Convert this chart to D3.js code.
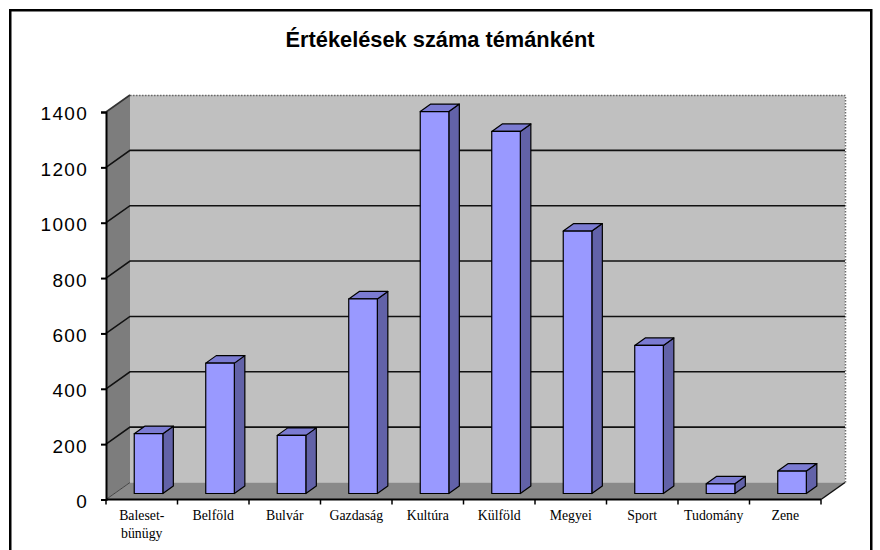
<!DOCTYPE html>
<html>
<head>
<meta charset="utf-8">
<script src="https://cdn.jsdelivr.net/npm/d3@7/dist/d3.min.js"></script>
<style>
  html, body { margin: 0; padding: 0; background: #fff; }
  svg { display: block; }
</style>
</head>
<body>
<svg id="chart" width="880" height="550"></svg>
<script>
// ---- data ----
const title = "Értékelések száma témánként";
const categories = ["Baleset-bünügy", "Belföld", "Bulvár", "Gazdaság", "Kultúra", "Külföld", "Megyei", "Sport", "Tudomány", "Zene"];
const values = [216, 471, 210, 703, 1380, 1308, 948, 535, 35, 81];
const yTicks = [0, 200, 400, 600, 800, 1000, 1200, 1400];

// ---- layout ----
const W = 880, H = 550;
const front = { left: 106, right: 821, bottom: 499.5, top: 112 };
const depth = { dx: 24, dy: -17 };      // back wall offset
const barOff = { dx: 8.5, dy: -6 };     // bar front plane offset
const barDepth = { dx: 10.5, dy: -7.5 };

const svg = d3.select("#chart");

// outer frame
svg.append("rect").attr("x", 0).attr("y", 0).attr("width", W).attr("height", H).attr("fill", "#fff");
svg.append("rect")
  .attr("x", 10.25).attr("y", 10.25).attr("width", 861).attr("height", 580)
  .attr("fill", "none").attr("stroke", "#000").attr("stroke-width", 2.5);

// title
svg.append("text")
  .attr("x", 440).attr("y", 47)
  .attr("text-anchor", "middle")
  .attr("font-family", "'Liberation Sans', Arial, sans-serif")
  .attr("font-weight", "bold")
  .attr("font-size", 21.8)
  .text(title);

// scales
const x = d3.scaleBand().domain(categories).range([front.left, front.right]).padding(0);
const y = d3.scaleLinear().domain([0, 1400]).range([front.bottom, front.top]);
const bw = x.bandwidth();

const maxV = 1400;
const bx0 = front.left + depth.dx, bx1 = front.right + depth.dx;

// left side wall
svg.append("polygon")
  .attr("points", [
    [front.left, y(0)], [front.left, y(maxV)],
    [front.left + depth.dx, y(maxV) + depth.dy], [front.left + depth.dx, y(0) + depth.dy]
  ].map(p => p.join(",")).join(" "))
  .attr("fill", "#7d7d7d");

// back wall
svg.append("rect")
  .attr("x", bx0).attr("y", y(maxV) + depth.dy)
  .attr("width", bx1 - bx0).attr("height", y(0) - y(maxV))
  .attr("fill", "#c0c0c0");

// dotted top and right border of back wall
svg.append("path")
  .attr("d", `M${bx0},${y(maxV) + depth.dy + 0.5}H${bx1 + 0.5}V${y(0) + depth.dy}`)
  .attr("fill", "none").attr("stroke", "#6a6a6a").attr("stroke-width", 1.5)
  .attr("stroke-dasharray", "1.5,1.5");

// floor
svg.append("polygon")
  .attr("points", [
    [front.left, y(0)], [front.right, y(0)],
    [front.right + depth.dx, y(0) + depth.dy], [front.left + depth.dx, y(0) + depth.dy]
  ].map(p => p.join(",")).join(" "))
  .attr("fill", "#898989");

// gridlines (back wall + side wall diagonals)
const grid = svg.append("g").attr("stroke", "#111").attr("stroke-width", 1.6).attr("fill", "none");
yTicks.filter(t => t > 0 && t < maxV).forEach(t => {
  grid.append("path")
    .attr("d", `M${front.left},${y(t)}L${bx0},${y(t) + depth.dy}H${bx1}`);
});
grid.append("path").attr("d", `M${front.left},${y(maxV)}L${bx0},${y(maxV) + depth.dy}`).attr("stroke", "#333");
grid.append("path").attr("d", `M${front.left},${y(0)}L${bx0},${y(0) + depth.dy}`).attr("stroke", "#444").attr("stroke-width", 1);
grid.append("path").attr("d", `M${front.right},${y(0)}L${front.right + depth.dx},${y(0) + depth.dy}`).attr("stroke-width", 1.5);

// bars
const yb = v => y(v) + barOff.dy;
const bars = svg.append("g").attr("stroke", "#000").attr("stroke-width", 1.2).attr("stroke-linejoin", "round");
categories.forEach((c, i) => {
  const v = values[i];
  const fx0 = x(c) + bw * 0.395;
  const fx1 = fx0 + bw * 0.4;
  const top = yb(v), bot = yb(0);
  const dx = barDepth.dx, dy = barDepth.dy;
  const g = bars.append("g");
  g.append("polygon")
    .attr("points", [[fx1, bot], [fx1, top], [fx1 + dx, top + dy], [fx1 + dx, bot + dy]].map(p => p.join(",")).join(" "))
    .attr("fill", "#6262a8");
  g.append("polygon")
    .attr("points", [[fx0, top], [fx1, top], [fx1 + dx, top + dy], [fx0 + dx, top + dy]].map(p => p.join(",")).join(" "))
    .attr("fill", "#7b7bd2");
  g.append("rect")
    .attr("x", fx0).attr("y", top).attr("width", fx1 - fx0).attr("height", bot - top)
    .attr("fill", "#9999ff");
});

// y axis
const yAxis = d3.axisLeft(y).tickValues(yTicks).tickSize(5).tickPadding(13).tickFormat(d3.format("d"));
const ga = svg.append("g").attr("transform", `translate(${front.left},0)`).call(yAxis);
ga.select(".domain").attr("stroke", "#000").attr("stroke-width", 2);
ga.selectAll(".tick line").attr("stroke", "#000").attr("stroke-width", 2);
ga.selectAll(".tick text")
  .attr("font-family", "'Liberation Sans', Arial, sans-serif")
  .attr("font-size", 19)
  .attr("letter-spacing", "1.3px")
  .attr("fill", "#000")
  .attr("dy", "0.42em");

// x axis
svg.append("line")
  .attr("x1", front.left).attr("x2", front.right)
  .attr("y1", y(0)).attr("y2", y(0))
  .attr("stroke", "#000").attr("stroke-width", 2);
const xt = svg.append("g");
categories.forEach(c => {
  xt.append("line").attr("x1", x(c)).attr("x2", x(c)).attr("y1", y(0)).attr("y2", y(0) + 5)
    .attr("stroke", "#000").attr("stroke-width", 1.5);
});
xt.append("line").attr("x1", front.right).attr("x2", front.right).attr("y1", y(0)).attr("y2", y(0) + 5)
  .attr("stroke", "#000").attr("stroke-width", 1.5);

categories.forEach(c => {
  const parts = c.includes("-") ? [c.slice(0, c.indexOf("-") + 1), c.slice(c.indexOf("-") + 1)] : [c];
  const t = svg.append("text")
    .attr("x", x(c) + bw / 2).attr("y", 520)
    .attr("text-anchor", "middle")
    .attr("font-family", "'Liberation Serif', 'Times New Roman', serif")
    .attr("font-size", 13.8)
    .attr("fill", "#000");
  parts.forEach((p, k) => {
    t.append("tspan").attr("x", x(c) + bw / 2).attr("dy", k === 0 ? 0 : 18).text(p);
  });
});
</script>
</body>
</html>
